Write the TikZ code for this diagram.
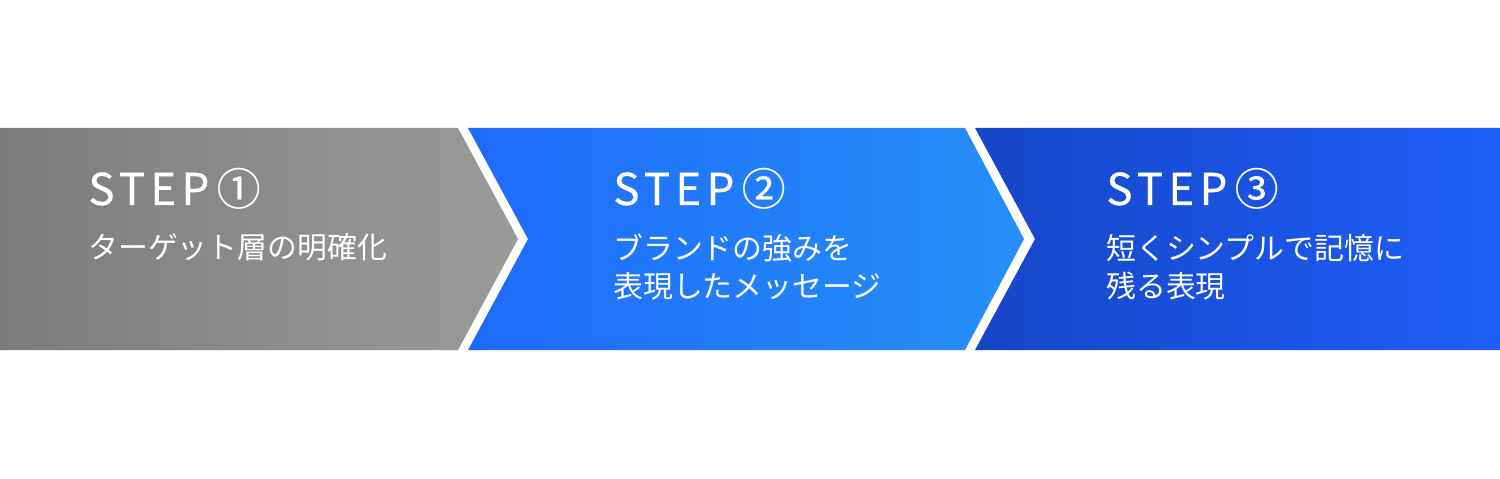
\documentclass[tikz,border=0pt]{standalone}
\usepackage{fontspec}
\setmainfont{Noto Sans CJK JP}
\newfontfamily\stepfont[LetterSpace=12, FakeBold=0.4]{Noto Sans CJK JP}

\definecolor{greyL}{HTML}{7B7C7B}
\definecolor{greyR}{HTML}{9A9B9A}
\definecolor{blueL}{HTML}{1E6AFB}
\definecolor{blueR}{HTML}{2690F8}
\definecolor{navyL}{HTML}{1646C8}
\definecolor{navyR}{HTML}{1E5EF8}

\tikzset{
    steptitle/.style={anchor=base west, inner sep=0pt, text=white, font=\stepfont\fontsize{25}{30}\selectfont},
    stepbody/.style={anchor=base west, inner sep=0pt, text=white, align=left, font=\fontsize{17}{21.5}\selectfont}
}

\begin{document}
\begin{tikzpicture}[x=0.02cm, y=-0.02cm]
    \useasboundingbox[fill=white] (0,0) rectangle (1500,479);
    \shade[left color=greyL, right color=greyR]
        (0,128) -- (458,128) -- (518,239) -- (458,350) -- (0,350) -- cycle;
    \shade[left color=blueL, right color=blueR]
        (468,128) -- (965,128) -- (1024,239) -- (965,350) -- (468,350) -- (528,239) -- cycle;
    \shade[left color=navyL, right color=navyR]
        (975,128) -- (1500,128) -- (1500,350) -- (975,350) -- (1035,239) -- cycle;

    \node[steptitle] (title1) at (88,205) {STEP\,①};
    \node[stepbody] (body1) at (88,259) {ターゲット層の明確化};

    \node[steptitle] (title2) at (613,205) {STEP\,②};
    \node[stepbody] (body2) at (613,297) {ブランドの強みを\\表現したメッセージ};

    \node[steptitle] (title3) at (1106,205) {STEP\,③};
    \node[stepbody] (body3) at (1106,297) {短くシンプルで記憶に\\残る表現};
\end{tikzpicture}
\end{document}
